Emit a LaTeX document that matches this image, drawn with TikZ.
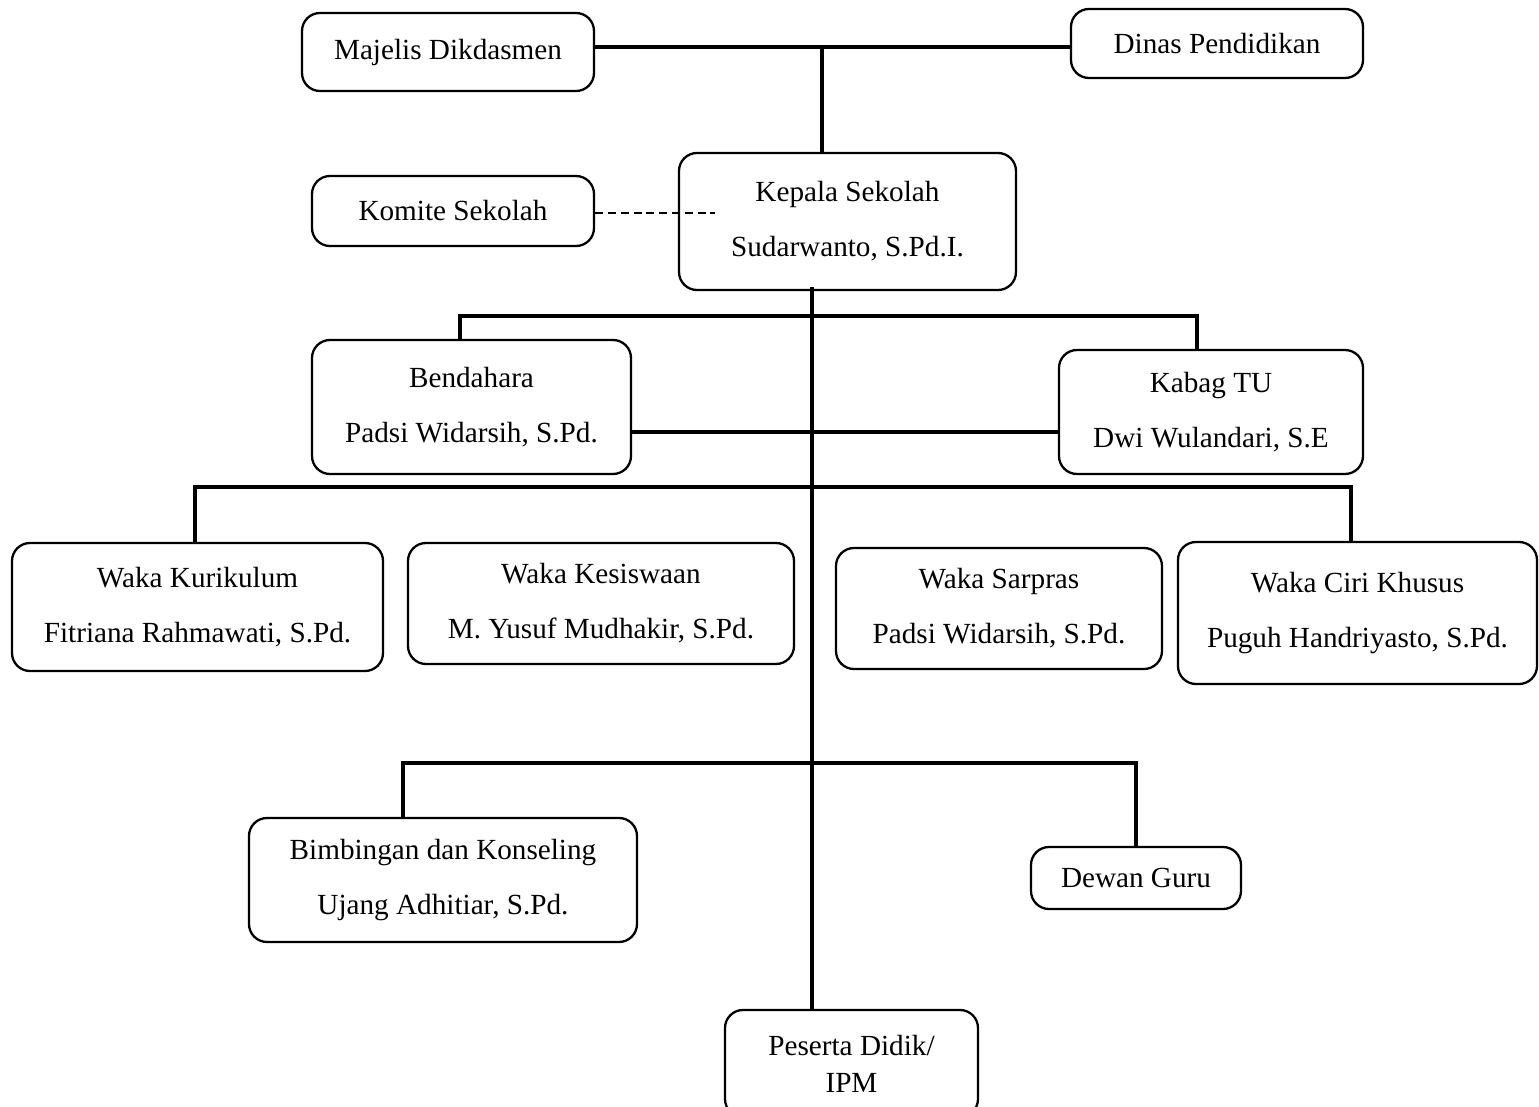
\documentclass[tikz,border=0pt]{standalone}
\usepackage{fontspec}
\setmainfont{Liberation Serif}
\begin{document}
\begin{tikzpicture}[
		x=0.5pt, y=-0.5pt,
		box/.style={draw, line width=1.15pt, rectangle, rounded corners=9pt, align=center, inner sep=0pt, font=\fontsize{14.6}{27.5}\selectfont},
		link/.style={line width=1.65pt},
		dashline/.style={line width=0.75pt, dash pattern=on 4pt off 2.4pt}
		]
		
		\useasboundingbox (0,0) rectangle (1539,1107);
		
		\node (majelis) [box, minimum width=146pt, minimum height=39pt] at (448,52) {Majelis Dikdasmen};
		\node (dinas) [box, minimum width=146pt, minimum height=34.5pt] at (1217,43.5) {Dinas Pendidikan};
		\node (komite) [box, minimum width=141pt, minimum height=35pt] at (453,211) {Komite Sekolah};
		\node (kepsek) [box, minimum width=168.5pt, minimum height=68.5pt] at (847.5,221.5) {Kepala Sekolah\\Sudarwanto, S.Pd.I.};
		\node (bendahara) [box, minimum width=159.5pt, minimum height=67pt] at (471.5,407) {Bendahara\\Padsi Widarsih, S.Pd.};
		\node (kabag) [box, minimum width=152pt, minimum height=62pt] at (1211,412) {Kabag TU\\Dwi Wulandari, S.E};
		\node (kurikulum) [box, minimum width=185.5pt, minimum height=64pt] at (197.5,607) {Waka Kurikulum\\Fitriana Rahmawati, S.Pd.};
		\node (kesiswaan) [box, minimum width=193pt, minimum height=60.5pt] at (601,603.5) {Waka Kesiswaan\\M. Yusuf Mudhakir, S.Pd.};
		\node (sarpras) [box, minimum width=163pt, minimum height=60.5pt] at (999,608.5) {Waka Sarpras\\Padsi Widarsih, S.Pd.};
		\node (cirikhusus) [box, minimum width=179.5pt, minimum height=71pt] at (1357.5,613) {Waka Ciri Khusus\\Puguh Handriyasto, S.Pd.};
		\node (bk) [box, minimum width=194pt, minimum height=62pt] at (443,880) {Bimbingan dan Konseling\\Ujang Adhitiar, S.Pd.};
		\node (dewan) [box, minimum width=105pt, minimum height=31pt] at (1136,878) {Dewan Guru};
		\node (peserta) [box, minimum width=126.5pt, minimum height=53.5pt, font=\fontsize{14.6}{18.5}\selectfont] at (851.5,1063.5) {Peserta Didik/\\IPM};
		
		\coordinate (top) at (822,47);
		\coordinate (dashend) at (715,213);
		\coordinate (trunk) at (812,287);
		\coordinate (bus1) at (812,316);
		\coordinate (mid) at (812,432);
		\coordinate (bus2) at (812,487);
		\coordinate (bus3) at (812,763);
		
		\draw[link] (majelis.east |- top) -- (dinas.west |- top);
		\draw[link] (top) -- (top |- kepsek.north);
		\draw[dashline] (komite.east |- dashend) -- (dashend);
		\draw[link] (trunk) -- (trunk |- peserta.north);
		\draw[link] ([xshift=-5.75pt]bendahara.north) |- (bus1) -| ([xshift=-7pt]kabag.north);
		\draw[link] (bendahara.east |- mid) -- (kabag.west |- mid);
		\draw[link] ([xshift=-1.25pt]kurikulum.north) |- (bus2) -| ([xshift=-3.25pt]cirikhusus.north);
		\draw[link] ([xshift=-20pt]bk.north) |- (bus3) -| (dewan.north);
		
	\end{tikzpicture}
\end{document}
